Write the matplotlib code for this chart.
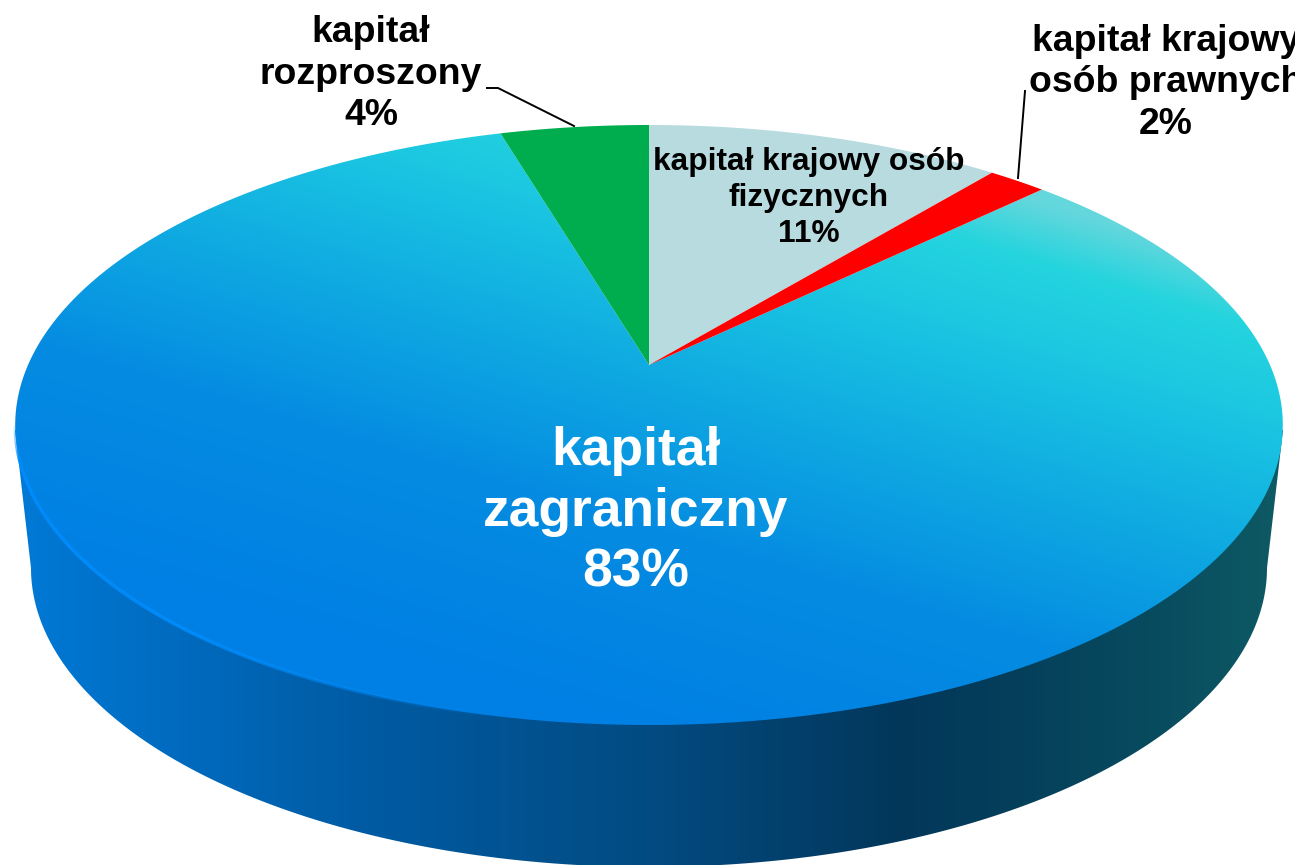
import numpy as np
import matplotlib
matplotlib.use("Agg")
import matplotlib.pyplot as plt
from matplotlib.patches import Polygon
from matplotlib.collections import LineCollection

plt.rcParams['font.family'] = ['Liberation Sans', 'DejaVu Sans']

# --- data: clockwise from 12 o'clock ---
categories = ["kapitał krajowy osób\nfizycznych", "kapitał krajowy\nosób prawnych",
              "kapitał\nzagraniczny", "kapitał\nrozproszony"]
drawn_shares = [11.0, 1.8, 82.6, 4.6]      # slice sizes
printed_pct = ["11%", "2%", "83%", "4%"]    # percentages as printed

flat_colors = {0: "#B7DBDF", 1: "#FF0000", 3: "#00AD4E"}

W, H = 1295, 865
APEX_X, APEX_Y = 649, 365
K, A, B = 0.2, 621.0, 288.0


def project(theta):
    u, v = np.sin(theta), np.cos(theta)
    w = 1 + K * v
    return APEX_X + A * u / w, APEX_Y - B * v / w


def rim(t0, t1, n=300):
    return np.column_stack(project(np.linspace(t0, t1, n)))


def ramp(t, stops):
    xs = [s[0] for s in stops]
    return np.stack([np.interp(t, xs, [s[1][i] for s in stops]) for i in range(3)], axis=-1) / 255


fig = plt.figure(figsize=(W / 100, H / 100), dpi=100)
ax = fig.add_axes([0, 0, 1, 1])
ax.set_xlim(0, W)
ax.set_ylim(H, 0)
ax.axis("off")

yy, xx = np.mgrid[0:H, 0:W] + 0.5

# side wall
side_stops = [(15, (0, 122, 215)), (200, (0, 105, 188)), (350, (0, 92, 165)), (650, (2, 75, 130)),
              (900, (3, 55, 90)), (1000, (4, 62, 90)), (1150, (8, 75, 95)), (1285, (14, 90, 100))]
bx, by, ba, bb = 649, 568, 618, 299
phi = np.linspace(np.pi, 0, 400)
lower = np.column_stack((bx + ba * np.cos(phi), by + bb * np.sin(phi)))
side_poly = np.vstack(([15, 430], lower, [1283, 430]))
side_patch = Polygon(side_poly, closed=True, transform=ax.transData, fc="none", ec="none")
ax.add_patch(side_patch)
im = ax.imshow(ramp(xx, side_stops), extent=(0, W, H, 0), origin="upper", aspect="auto",
               interpolation="bilinear", zorder=1)
im.set_clip_path(side_patch)

# slices on the top face
edges = np.cumsum([0] + drawn_shares) / sum(drawn_shares) * 2 * np.pi
top_stops = [(-300, (0, 128, 228)), (-100, (5, 140, 225)), (50, (15, 170, 225)),
             (200, (28, 200, 225)), (280, (36, 212, 222)), (340, (100, 215, 220))]
tval = (xx - 649) * 0.3 + (425 - yy)
apex = [APEX_X, APEX_Y]
for i, (t0, t1) in enumerate(zip(edges[:-1], edges[1:])):
    verts = np.vstack((apex, rim(t0, t1)))
    if i in flat_colors:
        ax.add_patch(Polygon(verts, closed=True, fc=flat_colors[i], ec="none", zorder=3))
    else:
        p = Polygon(verts, closed=True, transform=ax.transData, fc="none", ec="none")
        ax.add_patch(p)
        g = ax.imshow(ramp(tval, top_stops), extent=(0, W, H, 0), origin="upper", aspect="auto",
                      interpolation="bilinear", zorder=2)
        g.set_clip_path(p)

# bright rim on the lit side, fading out towards the front and the far left
tt = np.linspace(np.pi * 0.95, np.pi * 1.44, 300)
pts = np.column_stack(project(tt))
segs = np.stack([pts[:-1], pts[1:]], axis=1)
xm = segs[:, :, 0].mean(axis=1)
s = np.linspace(0, 1, len(segs))
rgba = np.zeros((len(segs), 4))
rgba[:, :3] = np.array([0, 142, 255]) / 255
rgba[:, 3] = np.clip((500 - xm) / 350, 0, 0.9) * np.clip((1 - s) / 0.08, 0, 1)
ax.add_collection(LineCollection(segs, colors=rgba, linewidths=2.5, zorder=2.5))

# leader lines
ax.plot([487, 498, 574], [88, 88, 126], color="black", lw=1.4, zorder=5)
ax.plot([1025, 1018], [91, 178], color="black", lw=1.4, zorder=5)

# labels
def label(i, x, y, size, color="black", ls=1.2):
    ax.text(x, y, categories[i] + "\n" + printed_pct[i], ha="center", va="center",
            fontsize=size, fontweight="bold", color=color, linespacing=ls, zorder=6)

label(0, 809, 198, 22.8, ls=1.27)
label(1, 1166, 83, 26.9, ls=1.24)
label(2, 636, 512, 38.4, color="white", ls=1.27)
label(3, 371, 74, 26.9, ls=1.24)

fig.savefig("out.png", dpi=100)
